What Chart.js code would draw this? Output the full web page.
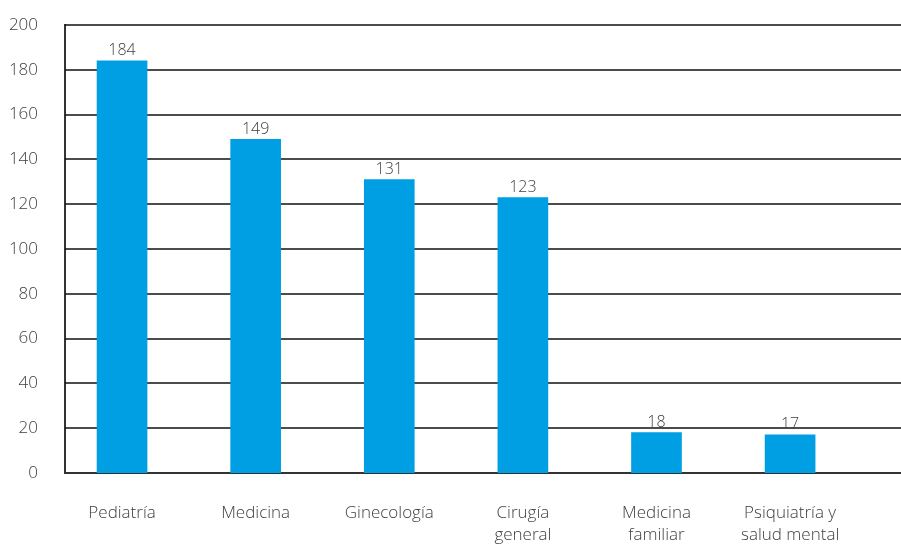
<!DOCTYPE html>
<html>
<head>
<meta charset="utf-8">
<script src="https://cdn.jsdelivr.net/npm/chart.js@4/dist/chart.umd.min.js"></script>
<style>
  body { margin: 0; background: #fff; }
  #wrap { width: 901px; height: 544px; }
</style>
</head>
<body>
<div id="wrap"><canvas id="chart"></canvas></div>
<script>
// datos
const categories = [
  ["Pediatría"],
  ["Medicina"],
  ["Ginecología"],
  ["Cirugía", "general"],
  ["Medicina", "familiar"],
  ["Psiquiatría y", "salud mental"]
];
const values = [184, 149, 131, 123, 18, 17];
const yTicks = [0, 20, 40, 60, 80, 100, 120, 140, 160, 180, 200];

const textColor = "#404040";
const fontFamily = "'Open Sans', 'Noto Sans', sans-serif";

// lineas horizontales hasta el borde derecho
const gridLines = {
  id: "gridLines",
  beforeDatasetsDraw(chart) {
    const ctx = chart.ctx;
    const y = chart.scales.y;
    const left = chart.chartArea.left;
    ctx.save();
    yTicks.forEach((v) => {
      const py = Math.round(y.getPixelForValue(v));
      ctx.beginPath();
      ctx.strokeStyle = v === 0 ? "#333" : "#111";
      ctx.lineWidth = v === 0 ? 2 : 1.5;
      ctx.moveTo(left, py);
      ctx.lineTo(chart.width, py);
      ctx.stroke();
    });
    ctx.restore();
  }
};

// etiquetas sobre las barras
const barLabels = {
  id: "barLabels",
  afterDatasetsDraw(chart) {
    const ctx = chart.ctx;
    const meta = chart.getDatasetMeta(0);
    ctx.save();
    ctx.font = "300 16px " + fontFamily;
    ctx.fillStyle = textColor;
    ctx.textAlign = "center";
    ctx.textBaseline = "bottom";
    meta.data.forEach((bar, i) => {
      ctx.fillText(String(values[i]), bar.x, bar.y - 2);
    });
    ctx.restore();
  }
};

new Chart(document.getElementById("chart"), {
  type: "bar",
  data: {
    datasets: [
      {
        data: values.map((v, i) => ({ x: i, y: v })),
        backgroundColor: "#009FE3",
        barThickness: 50
      }
    ]
  },
  options: {
    responsive: true,
    maintainAspectRatio: false,
    animation: false,
    layout: { padding: { top: 25, right: 0, left: 0, bottom: 0 } },
    plugins: { legend: { display: false }, tooltip: { enabled: false } },
    scales: {
      x: {
        type: "linear",
        offset: false,
        min: -0.427,
        max: 5.83,
        afterBuildTicks: (axis) => {
          axis.ticks = categories.map((c, i) => ({ value: i }));
        },
        afterFit: (axis) => {
          axis.height = 71;
        },
        grid: { display: false, drawTicks: false },
        border: { display: false },
        ticks: {
          padding: 29,
          color: textColor,
          font: { family: fontFamily, size: 17, weight: 300, lineHeight: 1.3 },
          maxRotation: 0,
          autoSkip: false,
          callback: (v) => categories[Math.round(v)]
        }
      },
      y: {
        min: 0,
        max: 200,
        afterBuildTicks: (axis) => {
          axis.ticks = yTicks.map((v) => ({ value: v }));
        },
        afterFit: (axis) => {
          axis.width = 65;
          axis.paddingTop = 0;
          axis.paddingBottom = 0;
        },
        grid: { display: false, drawTicks: false },
        border: { display: true, color: "#333", width: 2 },
        ticks: {
          padding: 27,
          color: textColor,
          font: { family: fontFamily, size: 17, weight: 300 }
        }
      }
    }
  },
  plugins: [gridLines, barLabels]
});
</script>
</body>
</html>
